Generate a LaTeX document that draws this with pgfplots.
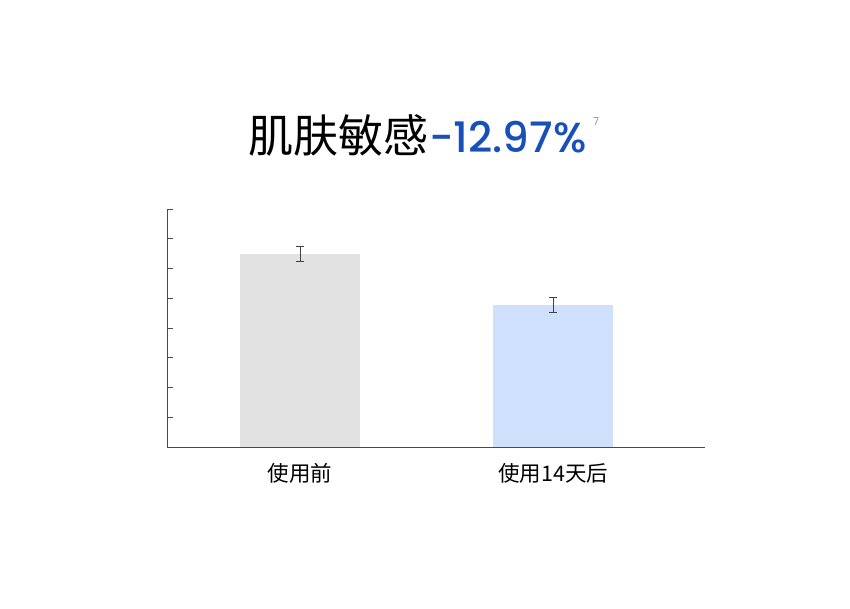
\documentclass[border=0pt]{standalone}
\usepackage{pgfplots}
\pgfplotsset{compat=1.18}
\usepackage{fontspec}
\newfontfamily\cjk{Noto Sans CJK SC}
\newfontfamily\pop{Poppins Medium}
\newfontfamily\popn{Poppins}
\definecolor{barGray}{HTML}{E2E2E2}
\definecolor{barBlue}{HTML}{CFE0FD}
\definecolor{titleBlue}{HTML}{1650B8}
\definecolor{noteBlue}{HTML}{7C98D0}
\definecolor{axisGray}{HTML}{4A4A4A}
\begin{document}
\begin{tikzpicture}
\path[use as bounding box] (0pt,0pt) rectangle (850pt,-608pt);
% title
\node[anchor=base east, inner sep=0pt, font=\cjk\fontsize{45}{52}\selectfont] at (429pt,-152pt) {肌肤敏感};
\node[anchor=base west, inner sep=0pt, text=titleBlue, font=\pop\fontsize{42}{50}\selectfont] at (429pt,-152pt) {-12.97\%};
\node[anchor=base west, inner sep=0pt, text=noteBlue, font=\popn\fontsize{11}{12}\selectfont] at (593pt,-125pt) {7};
\begin{axis}[
    at={(167pt,-447pt)}, anchor=south west,
    scale only axis, width=538pt, height=238pt,
    ybar, bar width=120pt, bar shift=0pt,
    xmin=-0.526, xmax=1.6, ymin=0, ymax=8,
    xtick={0,1}, xticklabels={使用前,使用14天后},
    ytick={0,1,...,8}, yticklabels={},
    axis x line*=bottom, axis y line*=left,
    axis line style={axisGray, line width=1pt},
    y tick style={axisGray, line width=1pt},
    major tick length=6pt, tick align=inside,
    x tick style={draw=none},
    xticklabel style={font=\cjk\fontsize{21.5}{24}\selectfont, text=black, yshift=-13pt},
]
\addplot[fill=barGray, draw=none,
    error bars/.cd, y dir=both, y explicit,
    error bar style={line width=0.8pt, black!75},
    error mark options={rotate=90, mark size=3.8pt, line width=0.8pt, black!75}]
    coordinates {(0,6.5) +- (0,0.26)};
\addplot[fill=barBlue, draw=none,
    error bars/.cd, y dir=both, y explicit,
    error bar style={line width=0.8pt, black!75},
    error mark options={rotate=90, mark size=3.8pt, line width=0.8pt, black!75}]
    coordinates {(1,4.78) +- (0,0.25)};
\end{axis}
\end{tikzpicture}
\end{document}
